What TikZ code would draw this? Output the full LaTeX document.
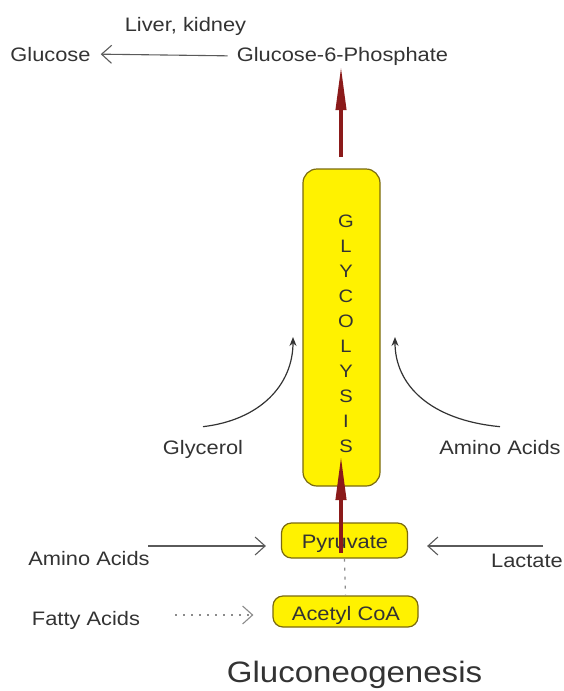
\documentclass[tikz,border=0pt]{standalone}
\usepackage{fontspec}
\setmainfont{Liberation Sans}[FakeStretch=1.12]
\usetikzlibrary{arrows.meta}
\definecolor{txt}{HTML}{333333}
\definecolor{ln}{HTML}{5A5A5A}
\definecolor{boxfill}{HTML}{FFF200}
\definecolor{boxline}{HTML}{7A6A10}
\definecolor{redarr}{HTML}{8B1A1A}
\begin{document}
\begin{tikzpicture}[x=1pt,y=-1pt,
  lbl/.style={font=\fontsize{19.5}{22}\selectfont, text=txt, inner sep=0pt, anchor=base},
  letter/.style={font=\fontsize{18}{20}\selectfont, text=txt, inner sep=0pt, anchor=base},
  ybox/.style={draw=boxline, fill=boxfill, line width=1.2pt, inner sep=0pt},
  thinarrow/.style={draw=ln, line width=1.1pt, -{Straight Barb[length=10pt,width=18pt,line width=1.1pt]}},
  dotarrow/.style={thinarrow, draw=ln!70, dash pattern=on 2pt off 6pt},
  redarrow/.style={draw=redarr, line width=4pt, -{Triangle[length=45pt,width=10pt]}},
  curvearrow/.style={draw=txt, line width=1.2pt, -{Stealth[length=9pt,width=7pt]}}
]
\useasboundingbox (0,0) rectangle (564,691);

% top labels
\node[lbl] (liver) at (185.5,31) {Liver, kidney};
\node[lbl] (glucose) at (50.5,61) {Glucose};
\node[lbl] (g6p) at (342.5,61) {Glucose-6-Phosphate};
\draw[thinarrow, shorten <=9pt, shorten >=10pt] (g6p.west) -- (glucose.east);

% glycolysis box
\node[ybox, rounded corners=14pt, minimum width=77pt, minimum height=317pt] (glyc) at (341.5,327.5) {};
\foreach \l [count=\i] in {G,L,Y,C,O,L,Y,S,I,S}
  \node[letter] (let\i) at (346,{227+25*(\i-1)}) {\l};

% red arrow to G6P
\coordinate (r1s) at (341,157);
\draw[redarrow] (r1s) -- (r1s |- g6p.south);

% pyruvate and acetyl CoA
\node[ybox, rounded corners=10pt, minimum width=126pt, minimum height=35pt] (pyr) at (344.5,540.5) {};
\node[lbl] (pyrtext) at (345,548) {Pyruvate};
\node[ybox, rounded corners=10pt, minimum width=145pt, minimum height=31pt] (acet) at (345.5,611.5) {};
\node[lbl] (acettext) at (346,620) {Acetyl CoA};

% red arrow from pyruvate into glycolysis
\coordinate (r2s) at (341,553);
\coordinate (r2e) at (341,455);
\draw[redarrow] (r2s) -- (r2e);

% dotted link pyruvate - acetyl CoA
\draw[draw=ln!70, line width=1.2pt, dash pattern=on 3pt off 6pt] (pyr.south) -- (acet.north);

% side inputs
\node[lbl] (gly) at (203,454) {Glycerol};
\node[lbl] (aar) at (500,454) {Amino Acids};
\coordinate (gt) at (293,337);
\coordinate (at) at (395,337);
\draw[curvearrow] ([yshift=13pt]gly.north) .. controls (260,420) and (293,385) .. (gt);
\draw[curvearrow] ([yshift=13pt]aar.north) .. controls (430,420) and (395,385) .. (at);

\node[lbl] (aal) at (89,565) {Amino Acids};
\node[lbl] (lact) at (527,567) {Lactate};
\node[lbl] (fatty) at (86,625) {Fatty Acids};
\coordinate (a1) at (148,546);
\coordinate (a2) at (543,546);
\coordinate (a3) at (175,615);
\draw[thinarrow, shorten >=15pt] (a1) -- (a1 -| pyr.west);
\draw[thinarrow, shorten >=19pt] (a2) -- (a2 -| pyr.east);
\draw[dotarrow, shorten >=19pt] (a3) -- (a3 -| acet.west);

% title
\node[lbl, font=\fontsize{29.5}{32}\selectfont] (title) at (354.5,682) {Gluconeogenesis};
\end{tikzpicture}
\end{document}
